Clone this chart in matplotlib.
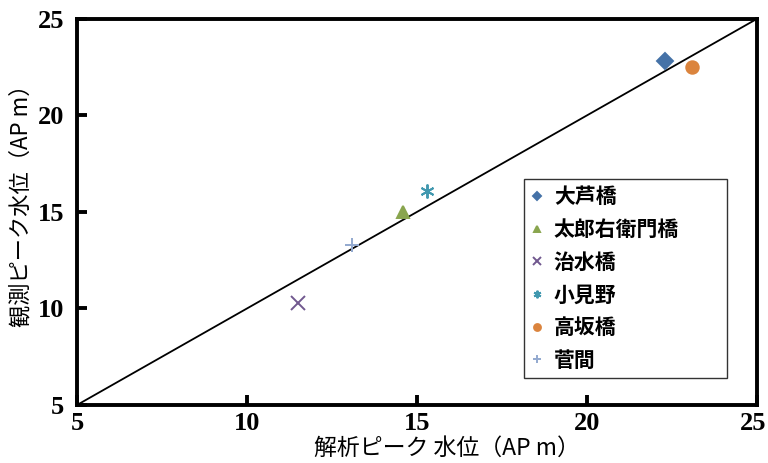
import matplotlib
matplotlib.use("Agg")
import matplotlib.pyplot as plt
import matplotlib.transforms as mtransforms

plt.rcParams['font.family'] = ['Noto Sans CJK JP', 'DejaVu Sans']

# 観測所ごとの解析値と観測値
names = ['大芦橋', '太郎右衛門橋', '治水橋', '小見野', '高坂橋', '菅間']
calc_x = [22.3, 14.6, 11.5, 15.3, 23.1, 13.1]
obs_y = [22.8, 15.0, 10.3, 16.1, 22.5, 13.3]
markers = ['D', '^', 'x', (6, 2, 0), 'o', '+']
colors = ['#4572A7', '#89A54E', '#71588F', '#4198AF', '#DB843D', '#93A9CF']
sizes = [8, 8, 10, 10, 9, 10]

ticks = [5, 10, 15, 20, 25]

fig = plt.figure(figsize=(7.68, 4.63), dpi=100)
ax = fig.add_axes([0.1003, 0.1253, 0.885, 0.8337])

ax.plot([5, 25], [5, 25], color='black', lw=1.3, zorder=1)

for n, x, y, m, c, s in zip(names, calc_x, obs_y, markers, colors, sizes):
    ax.plot(x, y, linestyle='none', marker=m, color=c, markersize=s,
            markeredgewidth=1.4, label=n, zorder=3)

ax.set_xlim(5, 25)
ax.set_ylim(5, 25)
ax.set_xticks(ticks)
ax.set_yticks(ticks)
for sp in ax.spines.values():
    sp.set_linewidth(2.8)
ax.tick_params(direction='in', length=7, width=2.8)
ax.tick_params(axis='y', pad=9)
ax.tick_params(axis='x', pad=5)
for lab in ax.get_xticklabels() + ax.get_yticklabels():
    lab.set_family('Liberation Serif')
    lab.set_fontweight('bold')
    lab.set_fontsize(19)

# 右端の「25」が画像からはみ出さないよう少し左へ
last = ax.get_xticklabels()[-1]
last.set_transform(last.get_transform() +
                   mtransforms.ScaledTranslation(-4 / 100, 0, fig.dpi_scale_trans))

ax.set_xlabel('解析ピーク 水位（AP m）', fontsize=16.5)
ax.set_ylabel('観測ピーク水位（AP m）', fontsize=16)
ax.xaxis.set_label_coords(0.544, -0.083)
ax.yaxis.set_label_coords(-0.066, 0.531)

leg = ax.legend(loc='lower left', bbox_to_anchor=(0.657, 0.07, 0.3, 0.515),
                mode='expand', frameon=True, fancybox=False, borderaxespad=0,
                handlelength=0.6, handletextpad=0.5, labelspacing=0.56,
                borderpad=0.35, markerscale=0.55,
                prop={'family': 'Noto Sans CJK JP', 'weight': 'bold', 'size': 15})
leg.get_frame().set_edgecolor('black')
leg.get_frame().set_linewidth(1.0)

fig.savefig('out.png', dpi=100)
